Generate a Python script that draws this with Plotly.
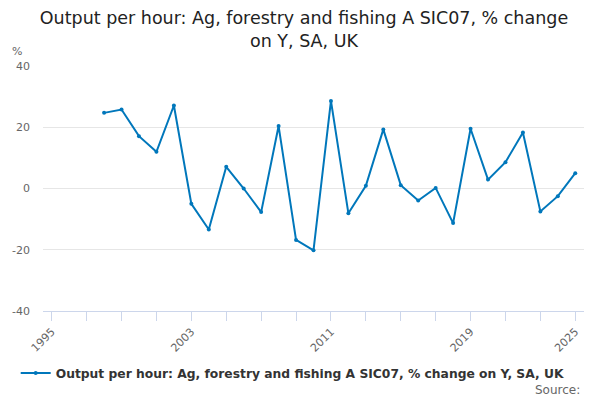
import plotly.graph_objects as go

years = list(range(1998, 2026))
values = [24.7, 25.8, 17.1, 12.0, 27.1, -5.0, -13.4, 7.1, 0.0, -7.7, 20.4, -16.8, -20.2, 28.6,
          -8.1, 0.9, 19.3, 1.1, -3.9, 0.2, -11.3, 19.5, 2.9, 8.6, 18.3, -7.5, -2.5, 5.0]
tick_years = list(range(1995, 2026, 2))
tick_labels = ["1995", "2003", "2011", "2019", "2025"]
y_ticks = [-40, -20, 0, 20, 40]
series_name = "Output per hour: Ag, forestry and fishing A SIC07, % change on Y, SA, UK"
title_text = "Output per hour: Ag, forestry and fishing A SIC07, % change<br>on Y, SA, UK"

color = "#0077bb"
font = "DejaVu Sans"

# page body adds an 8px offset; figure is sized to fit the visible window
W, H = 592, 392

fig = go.Figure()
fig.add_trace(go.Scatter(
    x=years, y=values, mode="lines+markers", name=series_name,
    line=dict(color=color, width=2), marker=dict(color=color, size=4),
))

ticktext = [str(y) if str(y) in tick_labels else "" for y in tick_years]
fig.update_layout(
    width=W, height=H,
    margin=dict(l=35, r=16, t=58.3, b=88.7, autoexpand=False),
    paper_bgcolor="white", plot_bgcolor="white",
    font=dict(family=font, color="#333"),
    title=dict(text=title_text, x=0.5, xanchor="center", yref="container",
               y=1 - 16 / H, yanchor="middle",
               font=dict(family=font, size=17.5, color="#222")),
    showlegend=True,
    legend=dict(orientation="h", xref="container", yref="container",
                x=7.7 / W, xanchor="left", y=1 - 365 / H, yanchor="middle",
                font=dict(family=font, size=12.3, color="#333", weight="bold"),
                bgcolor="rgba(0,0,0,0)"),
    xaxis=dict(range=[1994.5, 2025.5], tickmode="array",
               tickvals=tick_years, ticktext=ticktext,
               tickangle=-45, ticks="outside", ticklen=9, tickcolor="#ccd6eb",
               showline=True, linecolor="#ccd6eb", linewidth=1,
               showgrid=False, zeroline=False,
               tickfont=dict(family=font, size=11, color="#666")),
    yaxis=dict(range=[-40, 40], tickmode="array", tickvals=y_ticks,
               ticktext=[str(v) for v in y_ticks], ticklabelstandoff=12,
               showgrid=True, gridcolor="#e6e6e6", gridwidth=1,
               zeroline=False, showline=False, ticks="",
               tickfont=dict(family=font, size=11, color="#666")),
    annotations=[
        dict(text="%", xref="paper", yref="paper", x=-0.061, y=1.058, xanchor="left",
             yanchor="middle", showarrow=False, font=dict(family=font, size=11, color="#666")),
        dict(text="Source:", xref="paper", yref="paper", x=0.9957, y=-0.324, xanchor="right",
             yanchor="middle", showarrow=False, font=dict(family=font, size=12, color="#666")),
    ],
)

fig.write_html("out.html")
